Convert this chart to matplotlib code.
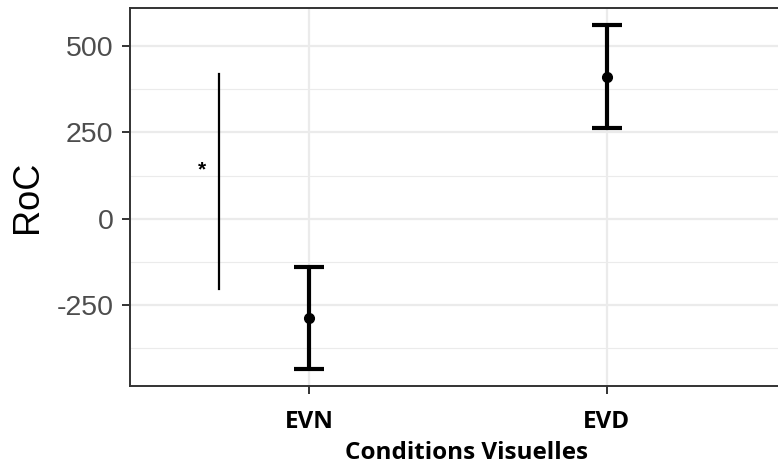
import matplotlib
matplotlib.use("Agg")
import matplotlib.pyplot as plt
from matplotlib.ticker import MultipleLocator

plt.rcParams["axes.unicode_minus"] = False

# data
conditions = ["EVN", "EVD"]
means = [-287, 411]
err_low = [-435, 263]
err_high = [-140, 561]

sig_x = 0.7
sig_y = [-204, 418]
star_x = 0.64
star_y = 140

fig = plt.figure(figsize=(7.78, 4.68), dpi=100)
ax = fig.add_axes([0.1671, 0.1752, 0.8329, 0.808])

xs = [1, 2]
yerr = [[m - lo for m, lo in zip(means, err_low)],
        [hi - m for m, hi in zip(means, err_high)]]
ax.errorbar(xs, means, yerr=yerr, fmt="o", color="black", ms=7,
            elinewidth=3, capsize=10.7, capthick=3, zorder=3)

ax.plot([sig_x, sig_x], sig_y, color="black", lw=1.6, zorder=3)
ax.text(star_x, star_y, "*", ha="center", va="center", fontsize=15,
        family="Liberation Sans", fontweight="bold")

ax.set_xlim(0.4, 2.574)
ax.set_ylim(-485, 611)
ax.set_xticks(xs)
ax.set_xticklabels(conditions)
ax.yaxis.set_major_locator(MultipleLocator(250))
ax.yaxis.set_minor_locator(MultipleLocator(125))

ax.grid(True, which="major", color="#EBEBEB", lw=1.6, zorder=0)
ax.grid(True, which="minor", axis="y", color="#EBEBEB", lw=0.8, zorder=0)
ax.set_axisbelow(True)

for s in ["left", "bottom", "top"]:
    ax.spines[s].set_color("#333333")
    ax.spines[s].set_linewidth(1.4)
ax.spines["right"].set_visible(False)

ax.tick_params(axis="y", which="major", length=6, width=1.4, color="#333333",
               labelsize=20.5, labelcolor="#4D4D4D", pad=6)
ax.tick_params(axis="y", which="minor", length=0)
ax.tick_params(axis="x", length=6, width=1.4, color="#333333", pad=11)
for lab in ax.get_yticklabels():
    lab.set_family("Liberation Sans")
for lab in ax.get_xticklabels():
    lab.set_family("Open Sans")
    lab.set_fontweight("bold")
    lab.set_fontsize(17.5)
    lab.set_color("black")

ax.set_ylabel("RoC", fontsize=26, family="Liberation Sans", labelpad=8)
ax.set_xlabel("Conditions Visuelles", fontsize=17.5, family="Open Sans",
              fontweight="bold", labelpad=5, x=0.52)

fig.savefig("out.png", dpi=100)
